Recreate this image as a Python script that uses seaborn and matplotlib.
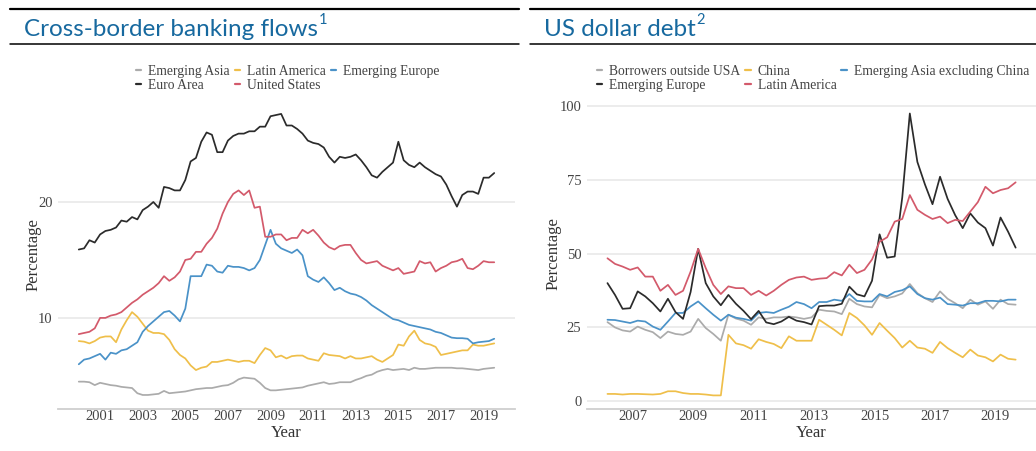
import numpy as np
import pandas as pd
import matplotlib
matplotlib.use("Agg")
import matplotlib.pyplot as plt
import seaborn as sns
from matplotlib.lines import Line2D

# ---------------- data: cross-border banking flows (quarterly, Jan-2000 .. Jul-2019)
left_dates = pd.date_range("2000-01-01", "2019-07-01", freq="QS")
emerging_asia = [4.5, 4.5, 4.45, 4.2, 4.4, 4.3, 4.2, 4.15, 4.05, 4.0, 3.95, 3.5, 3.35, 3.35, 3.4, 3.45,
                 3.7, 3.5, 3.55, 3.6, 3.65, 3.75, 3.85, 3.9, 3.95, 3.95, 4.05, 4.15, 4.2, 4.4, 4.7, 4.85,
                 4.8, 4.75, 4.4, 3.95, 3.75, 3.75, 3.8, 3.85, 3.9, 3.95, 4.0, 4.15, 4.25, 4.35, 4.45, 4.3,
                 4.35, 4.45, 4.45, 4.45, 4.65, 4.8, 5.0, 5.1, 5.35, 5.5, 5.6, 5.5, 5.55, 5.6, 5.5, 5.7,
                 5.6, 5.6, 5.65, 5.7, 5.7, 5.7, 5.7, 5.65, 5.65, 5.6, 5.55, 5.5, 5.6, 5.65, 5.7]
latin_america = [8.0, 7.95, 7.8, 8.0, 8.3, 8.4, 8.4, 7.9, 9.0, 9.8, 10.5, 10.1, 9.5, 8.9, 8.7, 8.7,
                 8.6, 8.1, 7.3, 6.8, 6.5, 5.9, 5.5, 5.7, 5.8, 6.2, 6.2, 6.3, 6.4, 6.3, 6.2, 6.3,
                 6.3, 6.1, 6.8, 7.4, 7.2, 6.6, 6.75, 6.5, 6.7, 6.75, 6.75, 6.5, 6.4, 6.3, 6.95, 6.8,
                 6.75, 6.7, 6.5, 6.7, 6.5, 6.5, 6.6, 6.7, 6.4, 6.2, 6.5, 6.8, 7.7, 7.6, 8.4, 8.9,
                 8.1, 7.8, 7.7, 7.5, 6.8, 6.9, 7.0, 7.1, 7.2, 7.2, 7.7, 7.6, 7.6, 7.7, 7.8]
emerging_europe = [6.0, 6.4, 6.5, 6.7, 6.9, 6.4, 7.0, 6.9, 7.2, 7.3, 7.6, 7.9, 8.8, 9.3, 9.7, 10.1,
                   10.5, 10.6, 10.2, 9.7, 10.8, 13.6, 13.6, 13.6, 14.6, 14.5, 14.0, 13.9, 14.5, 14.4, 14.4, 14.3,
                   14.1, 14.3, 15.0, 16.3, 17.6, 16.4, 16.0, 15.8, 15.6, 15.9, 15.4, 13.6, 13.3, 13.1, 13.5, 13.0,
                   12.4, 12.6, 12.3, 12.1, 12.0, 11.8, 11.5, 11.1, 10.8, 10.5, 10.2, 9.9, 9.8, 9.6, 9.4, 9.3,
                   9.2, 9.1, 9.0, 8.8, 8.7, 8.5, 8.3, 8.25, 8.25, 8.2, 7.8, 7.9, 7.95, 8.0, 8.2]
euro_area = [15.9, 16.0, 16.7, 16.5, 17.2, 17.5, 17.6, 17.8, 18.4, 18.3, 18.7, 18.5, 19.3, 19.6, 20.0, 19.5,
             21.3, 21.2, 21.0, 21.0, 21.9, 23.5, 23.8, 25.2, 26.0, 25.8, 24.3, 24.3, 25.3, 25.7, 25.9, 25.9,
             26.1, 26.1, 26.5, 26.5, 27.4, 27.5, 27.6, 26.6, 26.6, 26.3, 25.9, 25.3, 25.1, 25.0, 24.7, 23.9,
             23.4, 23.9, 23.8, 23.9, 24.1, 23.6, 23.0, 22.3, 22.1, 22.6, 23.0, 23.4, 25.2, 23.6, 23.2, 23.0,
             23.4, 23.0, 22.7, 22.4, 22.2, 21.5, 20.5, 19.6, 20.6, 20.9, 20.9, 20.7, 22.1, 22.1, 22.5]
united_states = [8.6, 8.7, 8.8, 9.1, 10.0, 10.0, 10.2, 10.3, 10.5, 10.9, 11.3, 11.6, 12.0, 12.3, 12.6, 13.0,
                 13.6, 13.2, 13.5, 14.0, 15.0, 15.1, 15.7, 15.7, 16.4, 16.9, 17.7, 19.0, 20.0, 20.7, 21.0, 20.6,
                 21.0, 19.5, 19.6, 17.0, 17.0, 17.2, 17.2, 16.7, 16.9, 16.9, 17.6, 17.3, 17.6, 17.1, 16.5, 16.1,
                 15.9, 16.2, 16.3, 16.3, 15.6, 15.0, 14.7, 14.8, 14.9, 14.5, 14.3, 14.1, 14.3, 13.8, 13.9, 14.0,
                 14.9, 14.7, 14.8, 14.0, 14.3, 14.5, 14.8, 14.9, 15.1, 14.3, 14.2, 14.5, 14.9, 14.8, 14.8]
left_series = ["Emerging Asia", "Latin America", "Emerging Europe", "Euro Area", "United States"]

# ---------------- data: US dollar debt (quarterly, Mar-2006 .. Sep-2019)
right_dates = pd.date_range("2006-03-01", "2019-09-01", freq="QS-MAR")
borrowers_outside_usa = [26.8, 25.0, 24.0, 23.6, 25.3, 24.2, 23.4, 21.4, 23.6, 22.8, 22.5, 23.6, 27.9, 24.8, 22.8, 20.5,
                         29.3, 28.0, 27.3, 25.9, 28.4, 27.9, 28.4, 28.4, 28.7, 28.4, 27.9, 28.4, 31.0, 30.6, 30.4, 29.5,
                         34.7, 32.9, 32.1, 31.8, 36.0, 34.9, 35.5, 36.5, 39.7, 36.6, 34.9, 33.6, 37.2, 34.7, 33.2, 31.5,
                         34.4, 32.7, 33.8, 31.3, 34.4, 32.9, 32.7]
china = [2.5, 2.5, 2.3, 2.5, 2.5, 2.4, 2.3, 2.5, 3.4, 3.4, 2.8, 2.5, 2.5, 2.3, 2.0, 2.0,
         22.5, 19.6, 19.0, 17.8, 21.0, 20.1, 19.4, 18.0, 22.0, 20.5, 20.5, 20.5, 27.6, 25.9, 24.2, 22.3,
         29.9, 28.2, 25.7, 22.5, 26.5, 23.9, 21.4, 18.2, 20.5, 18.2, 17.8, 16.4, 20.1, 18.0, 16.4, 14.9,
         17.5, 15.5, 14.9, 13.5, 15.8, 14.4, 14.1]
asia_ex_china = [27.6, 27.5, 27.0, 26.5, 27.3, 27.0, 25.3, 24.2, 27.0, 29.9, 29.9, 32.1, 33.8, 31.5, 29.3, 27.3,
                 29.3, 28.3, 27.9, 27.3, 29.9, 30.2, 29.9, 31.0, 32.0, 33.6, 32.9, 31.5, 33.6, 33.6, 34.4, 34.0,
                 36.3, 34.0, 33.8, 33.8, 36.3, 35.5, 37.0, 37.6, 38.9, 36.3, 34.9, 34.4, 35.1, 32.9, 32.7, 32.4,
                 33.2, 33.2, 34.0, 34.0, 33.8, 34.4, 34.4]
emerging_europe_debt = [40.0, 36.0, 31.3, 31.5, 37.2, 35.5, 33.2, 30.4, 34.7, 30.2, 27.9, 37.0, 51.6, 40.0, 35.5, 32.5,
                        36.0, 33.0, 30.6, 27.8, 30.6, 26.7, 26.1, 27.0, 28.6, 27.3, 26.8, 26.0, 32.2, 32.4, 32.4, 33.0,
                        38.8, 36.2, 35.5, 40.8, 56.5, 48.6, 49.0, 69.0, 97.4, 81.0, 73.4, 66.7, 76.0, 68.5, 63.0, 58.6,
                        63.6, 60.5, 58.6, 52.7, 62.2, 57.4, 52.0]
latin_america_debt = [48.4, 46.5, 45.6, 44.5, 45.3, 42.2, 42.2, 37.4, 39.4, 36.0, 37.4, 43.9, 51.6, 45.1, 39.4, 36.3,
                      38.9, 38.3, 38.3, 36.0, 37.4, 35.8, 37.4, 39.4, 41.1, 41.9, 42.2, 41.1, 41.5, 41.7, 43.7, 42.6,
                      46.2, 43.4, 44.5, 48.0, 54.0, 55.5, 60.8, 61.7, 69.8, 64.8, 63.1, 61.7, 62.5, 60.3, 61.4, 61.0,
                      64.2, 67.4, 72.6, 70.4, 71.5, 72.1, 74.1]
right_series = ["Borrowers outside USA", "China", "Emerging Asia excluding China", "Emerging Europe", "Latin America"]

left_ticks_x = [2001, 2003, 2005, 2007, 2009, 2011, 2013, 2015, 2017, 2019]
left_ticks_y = [10, 20]
right_ticks_x = [2007, 2009, 2011, 2013, 2015, 2017, 2019]
right_ticks_y = [0, 25, 50, 75, 100]

# ---------------- styling
GRAY, YELLOW, BLUE, BLACK, RED = "#ababab", "#efbf4a", "#4a92c8", "#2b2b2b", "#d35a6b"
TITLE_BLUE = "#17699f"

sns.set_theme(style="white")
plt.rcParams["font.family"] = ["Liberation Serif", "DejaVu Serif"]


def decimal_year(d):
    return d.year + (d.month - 1) / 12.0


def long_frame(dates, names, values):
    x = decimal_year(dates)
    frames = [pd.DataFrame({"Year": x, "Percentage": v, "Series": n}) for n, v in zip(names, values)]
    return pd.concat(frames, ignore_index=True)


df_left = long_frame(left_dates, left_series,
                     [emerging_asia, latin_america, emerging_europe, euro_area, united_states])
df_right = long_frame(right_dates, right_series,
                      [borrowers_outside_usa, china, asia_ex_china, emerging_europe_debt, latin_america_debt])

W, H = 1036, 451
fig = plt.figure(figsize=(W / 100, H / 100), dpi=100)


def px_axes(x0, y0, x1, y1):
    return fig.add_axes([x0 / W, 1 - y1 / H, (x1 - x0) / W, (y1 - y0) / H])


ax1 = px_axes(58, 100, 515, 409)
ax2 = px_axes(587, 99, 1036, 409)

pal_left = dict(zip(left_series, [GRAY, YELLOW, BLUE, BLACK, RED]))
pal_right = dict(zip(right_series, [GRAY, YELLOW, BLUE, BLACK, RED]))

sns.lineplot(data=df_left, x="Year", y="Percentage", hue="Series", hue_order=left_series,
             palette=pal_left, linewidth=1.25, ax=ax1, legend=False)
sns.lineplot(data=df_right, x="Year", y="Percentage", hue="Series", hue_order=right_series,
             palette=pal_right, linewidth=1.25, ax=ax2, legend=False)


def style_axes(ax, xt, yt, ylabelpad):
    ax.set_xticks(xt)
    ax.set_yticks(yt)
    ax.set_xticklabels([str(t) for t in xt])
    ax.set_yticklabels([str(t) for t in yt])
    ax.tick_params(axis="both", length=0, labelsize=10.5, colors="#444444")
    ax.tick_params(axis="x", pad=1)
    ax.tick_params(axis="y", pad=4)
    ax.grid(axis="y", color="#ebebeb", linewidth=1.3)
    ax.grid(axis="x", visible=False)
    for s in ["top", "right", "left"]:
        ax.spines[s].set_visible(False)
    ax.spines["bottom"].set_color("#cfcfcf")
    ax.spines["bottom"].set_linewidth(1.3)
    ax.set_xlabel("Year", fontsize=12, color="#333333", labelpad=1)
    ax.set_ylabel("Percentage", fontsize=12, color="#333333", labelpad=ylabelpad)
    ax.set_axisbelow(True)


style_axes(ax1, left_ticks_x, left_ticks_y, -3)
style_axes(ax2, right_ticks_x, right_ticks_y, -1.5)
ax1.set_xlim(1999.025, 2020.475)
ax1.set_ylim(2.14, 28.8)
ax2.set_xlim(2005.49, 2020.34)
ax2.set_ylim(-2.6, 102.3)


def make_legend(names, pal, order, anchor_px):
    handles = [Line2D([], [], color=pal[names[i]], linewidth=1.6) for i in order]
    labels = [names[i] for i in order]
    leg = fig.legend(handles, labels, ncol=3, loc="upper left",
                     bbox_to_anchor=(anchor_px[0] / W, 1 - anchor_px[1] / H),
                     frameon=False, fontsize=9.85, handlelength=0.4, handletextpad=0.5,
                     columnspacing=0.35, labelspacing=0.07, borderpad=0, borderaxespad=0)
    for t in leg.get_texts():
        t.set_color("#444444")
    return leg


# matplotlib fills legend columns first -> reorder so rows read like the original
make_legend(left_series, pal_left, [0, 3, 1, 4, 2], (136, 65))
make_legend(right_series, pal_right, [0, 3, 1, 4, 2], (597, 65))

# ---------------- titles with rules
for x0, x1 in [(10, 519), (530, 1036)]:
    fig.add_artist(Line2D([x0 / W, x1 / W], [1 - 8.5 / H, 1 - 8.5 / H], color="black", linewidth=1.6))
    fig.add_artist(Line2D([x0 / W, x1 / W], [1 - 43.5 / H, 1 - 43.5 / H], color="black", linewidth=1.1))

renderer = fig.canvas.get_renderer()
for x0, title, sup in [(24, "Cross-border banking flows", "1"), (544, "US dollar debt", "2")]:
    t = fig.text(x0 / W, 1 - 35.5 / H, title, fontsize=17.5, color=TITLE_BLUE, family="Lato",
                 ha="left", va="baseline")
    bb = t.get_window_extent(renderer)
    fig.text((bb.x1 + 1) / W, 1 - 24 / H, sup, fontsize=10.5, color=TITLE_BLUE, family="Lato",
             ha="left", va="baseline")

fig.savefig("out.png", dpi=100, facecolor="white")
